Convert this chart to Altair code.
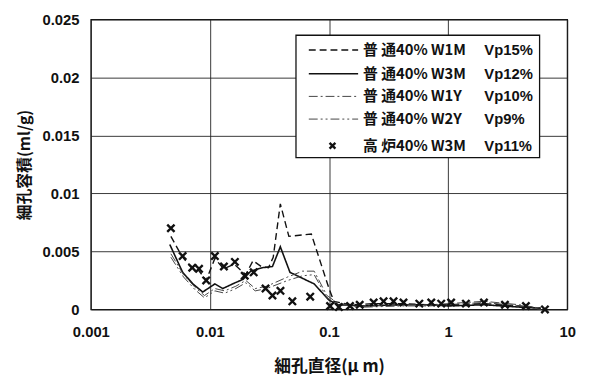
import altair as alt
import pandas as pd

# ---- data ----
x_w1m = [0.0047, 0.0058, 0.007, 0.008, 0.0093, 0.011, 0.013, 0.016, 0.02, 0.023, 0.027, 0.031, 0.034,
         0.039, 0.046, 0.071, 0.1, 0.11, 0.15, 0.25, 0.4, 0.7, 1.0, 2.0, 4.0, 6.0]
y_w1m = [0.0063, 0.0046, 0.0036, 0.0034, 0.0025, 0.0044, 0.0035, 0.0039, 0.0030, 0.0042, 0.0037, 0.0036, 0.0045,
         0.0091, 0.0063, 0.0065, 0.0018, 0.0007, 0.0004, 0.0005, 0.0005, 0.0004, 0.0004, 0.0005, 0.0003, 0.0001]

x_w3m = [0.0046, 0.0059, 0.0072, 0.0087, 0.011, 0.0128, 0.0155, 0.019, 0.022, 0.0276, 0.0335, 0.039, 0.047,
         0.075, 0.1, 0.12, 0.2, 0.4, 0.7, 1.0, 2.0, 4.0, 6.0]
y_w3m = [0.0056, 0.0032, 0.0022, 0.0015, 0.0022, 0.0018, 0.0022, 0.0026, 0.0033, 0.0036, 0.0037, 0.0054, 0.0032,
         0.0022, 0.0008, 0.0004, 0.0003, 0.0004, 0.0004, 0.0003, 0.0004, 0.0002, 0.0001]

x_w1y = [0.0047, 0.006, 0.0075, 0.009, 0.011, 0.0133, 0.0165, 0.02, 0.024, 0.03, 0.045, 0.06, 0.075, 0.096,
         0.12, 0.2, 0.4, 0.7, 1.0, 2.0, 4.0, 6.0]
y_w1y = [0.0048, 0.0030, 0.0019, 0.0012, 0.0018, 0.0016, 0.0020, 0.0025, 0.0018, 0.0020, 0.0028, 0.0033, 0.0033,
         0.0012, 0.0005, 0.0003, 0.0004, 0.0004, 0.0005, 0.0007, 0.0004, 0.0001]

x_w2y = [0.0047, 0.006, 0.0075, 0.009, 0.011, 0.0133, 0.0165, 0.02, 0.024, 0.03, 0.045, 0.06, 0.075, 0.096,
         0.12, 0.2, 0.4, 0.7, 1.0, 2.0, 4.0, 6.0]
y_w2y = [0.0045, 0.0028, 0.0017, 0.0010, 0.0016, 0.0014, 0.0018, 0.0023, 0.0016, 0.0018, 0.0025, 0.0029, 0.0030,
         0.0010, 0.0004, 0.0002, 0.0003, 0.0003, 0.0004, 0.0006, 0.0003, 0.0000]

x_bf = [0.0047, 0.0059, 0.0071, 0.0081, 0.0093, 0.011, 0.0131, 0.0162, 0.0196, 0.0233, 0.0293, 0.0335, 0.0391,
        0.0492, 0.0695, 0.102, 0.121, 0.15, 0.181, 0.237, 0.287, 0.348, 0.422, 0.573, 0.722, 0.875, 1.06, 1.41,
        2.0, 3.0, 4.5, 6.5]
y_bf = [0.0070, 0.0046, 0.0036, 0.0035, 0.0025, 0.0046, 0.0037, 0.0041, 0.0029, 0.0032, 0.0018, 0.0012, 0.0016,
        0.0007, 0.0011, 0.0003, 0.0002, 0.0003, 0.0004, 0.0006, 0.0007, 0.0007, 0.0006, 0.0005, 0.0006, 0.0005,
        0.0006, 0.0005, 0.0006, 0.0004, 0.0003, 0.0000]

series_names = ["普 通40% W1M", "普 通40% W3M", "普 通40% W1Y", "普 通40% W2Y", "高 炉40% W3M"]
vp_labels = ["Vp15%", "Vp12%", "Vp10%", "Vp9%", "Vp11%"]
x_ticks = [0.001, 0.01, 0.1, 1, 10]
y_ticks = [0, 0.005, 0.01, 0.015, 0.02, 0.025]

FONT = "Noto Sans CJK JP"
NUMFONT = "Liberation Sans"
W, H = 483, 294

line_styles = {
    series_names[0]: dict(dash=[7, 4], width=1.4, color="#111"),
    series_names[1]: dict(dash=[1, 0], width=1.6, color="#111"),
    series_names[2]: dict(dash=[9, 3, 2, 3], width=1.0, color="#444"),
    series_names[3]: dict(dash=[9, 3, 2, 3, 2, 3], width=1.0, color="#444"),
}

xs = [x_w1m, x_w3m, x_w1y, x_w2y]
ys = [y_w1m, y_w3m, y_w1y, y_w2y]

xscale = alt.Scale(type="log", domain=[0.001, 10])
yscale = alt.Scale(domain=[0, 0.025])

xaxis = alt.Axis(values=x_ticks, format="~g", title="細孔直径(μ m)", grid=True, gridColor="#222",
                 gridWidth=0.9, tickSize=0, domain=False, labelFont=NUMFONT, labelFontSize=15,
                 labelFontWeight="bold", labelColor="#111", labelPadding=15, titleFont=FONT,
                 titleFontSize=17, titleFontWeight="bold", titleColor="#111", titlePadding=20,
                 labelFlush=False)
yaxis = alt.Axis(values=y_ticks, format="~g", title="細孔容積(ml/g)", grid=True, gridColor="#222",
                 gridWidth=0.9, tickSize=0, domain=False, labelFont=NUMFONT, labelFontSize=15,
                 labelFontWeight="bold", labelColor="#111", labelPadding=12, titleFont=FONT,
                 titleFontSize=16, titleFontWeight="bold", titleColor="#111", titlePadding=10)

enc_x = alt.X("x:Q", scale=xscale, axis=xaxis)
enc_y = alt.Y("y:Q", scale=yscale, axis=yaxis)

layers = []
for i, (xv, yv) in enumerate(zip(xs, ys)):
    st = line_styles[series_names[i]]
    df = pd.DataFrame({"x": xv, "y": yv})
    layers.append(
        alt.Chart(df).mark_line(strokeDash=st["dash"], strokeWidth=st["width"], color=st["color"])
        .encode(x=enc_x, y=enc_y)
    )

df_bf = pd.DataFrame({"x": x_bf, "y": y_bf})
xshape = "M-1,-1L1,1M1,-1L-1,1"
layers.append(
    alt.Chart(df_bf).mark_point(shape=xshape, size=55, filled=False, strokeWidth=2.4, color="#111", opacity=1)
    .encode(x=enc_x, y=enc_y)
)

# ---- legend box ----
one = pd.DataFrame({"a": [0]})
layers.append(
    alt.Chart(one).mark_rect(fill="white", stroke="#111", strokeWidth=1.3)
    .encode(x=alt.value(208), x2=alt.value(455), y=alt.value(16), y2=alt.value(140))
)
row_y = [31, 55, 78, 101, 128]
for i, name in enumerate(series_names):
    yv = row_y[i]
    if i < 4:
        st = line_styles[name]
        layers.append(
            alt.Chart(one).mark_rule(strokeDash=st["dash"], strokeWidth=st["width"], color=st["color"])
            .encode(x=alt.value(221), x2=alt.value(271), y=alt.value(yv))
        )
    else:
        layers.append(
            alt.Chart(one).mark_point(shape=xshape, size=35, filled=False, strokeWidth=2.4, color="#111", opacity=1)
            .encode(x=alt.value(245), y=alt.value(yv))
        )
    layers.append(
        alt.Chart(one).mark_text(text=name, font=FONT, fontSize=15, fontWeight="bold", color="#111",
                                 align="left", baseline="middle")
        .encode(x=alt.value(276), y=alt.value(yv))
    )
    layers.append(
        alt.Chart(one).mark_text(text=vp_labels[i], font=NUMFONT, fontSize=15, fontWeight="bold", color="#111",
                                 align="left", baseline="middle")
        .encode(x=alt.value(399), y=alt.value(yv))
    )

chart = alt.layer(*layers).properties(
    width=W, height=H,
    autosize=alt.AutoSizeParams(type="none"),
    padding={"left": 84, "top": 9, "right": 15, "bottom": 74},
    background="white",
).configure_view(stroke="#111", strokeWidth=1.3)

chart.save("out.html", embed_options={"renderer": "svg", "actions": False})
